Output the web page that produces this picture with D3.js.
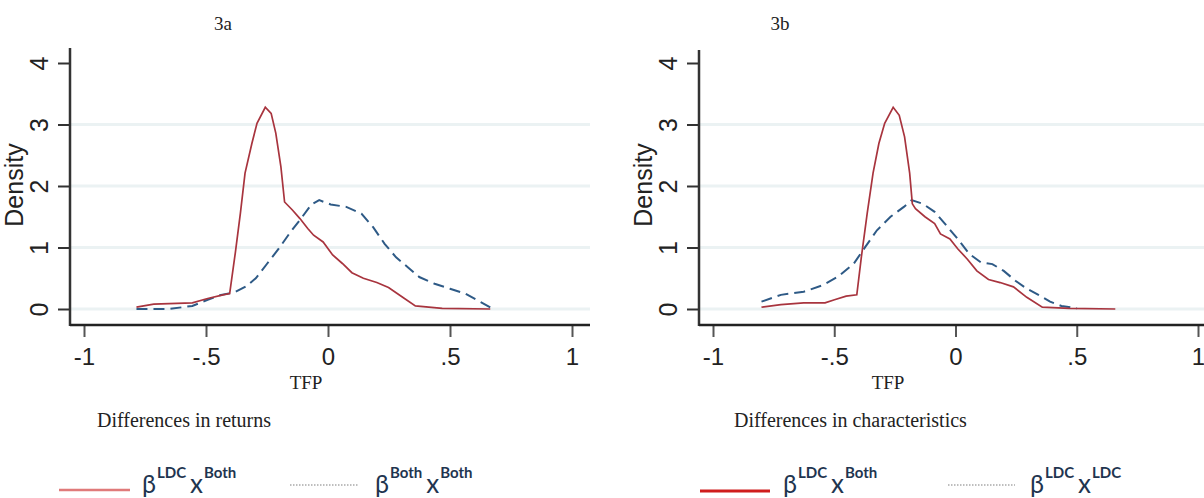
<!doctype html>
<html lang="en">
<head>
    <meta charset="UTF-8">
    <title>TFP density decomposition</title>
    <style>
        body { margin: 0; background: #fff; }
    </style>
</head>
<body>
<script src="https://cdn.jsdelivr.net/npm/d3@7"></script>
<script>

    // axis ticks
    const tfpTicks = [-1, -0.5, 0, 0.5, 1]
    const tfpTickLabels = ['-1', '-.5', '0', '.5', '1']
    const densityTicks = [0, 1, 2, 3, 4]
    const gridTicks = [0, 1, 2, 3]

    // 3a: differences in returns  [TFP, density]
    const returnsLdcBoth = [
        [-0.785, 0.03], [-0.714, 0.08], [-0.556, 0.10], [-0.493, 0.17], [-0.430, 0.23],
        [-0.403, 0.25], [-0.380, 0.91], [-0.359, 1.56], [-0.340, 2.21], [-0.312, 2.69],
        [-0.291, 3.02], [-0.257, 3.28], [-0.233, 3.18], [-0.214, 2.86], [-0.193, 2.31],
        [-0.178, 1.74], [-0.146, 1.61], [-0.115, 1.47], [-0.083, 1.31], [-0.059, 1.20],
        [-0.020, 1.09], [0.019, 0.88], [0.059, 0.74], [0.098, 0.59], [0.145, 0.50],
        [0.200, 0.43], [0.248, 0.35], [0.303, 0.20], [0.358, 0.05], [0.468, 0.01],
        [0.665, 0.00]
    ]
    const returnsBothBoth = [
        [-0.785, 0.00], [-0.651, 0.00], [-0.556, 0.05], [-0.493, 0.15], [-0.438, 0.23],
        [-0.383, 0.27], [-0.335, 0.37], [-0.296, 0.50], [-0.249, 0.74], [-0.202, 0.98],
        [-0.154, 1.25], [-0.107, 1.49], [-0.068, 1.70], [-0.036, 1.77], [0.011, 1.70],
        [0.075, 1.66], [0.137, 1.55], [0.185, 1.33], [0.232, 1.06], [0.279, 0.84],
        [0.327, 0.68], [0.374, 0.52], [0.437, 0.41], [0.500, 0.33], [0.563, 0.25],
        [0.626, 0.11], [0.667, 0.02]
    ]

    // 3b: differences in characteristics
    const charsLdcBoth = [
        [-0.800, 0.03], [-0.720, 0.07], [-0.626, 0.10], [-0.538, 0.10], [-0.499, 0.15],
        [-0.451, 0.21], [-0.407, 0.23], [-0.388, 0.85], [-0.364, 1.56], [-0.340, 2.21],
        [-0.316, 2.69], [-0.292, 3.02], [-0.257, 3.28], [-0.232, 3.15], [-0.210, 2.80],
        [-0.189, 2.21], [-0.178, 1.71], [-0.165, 1.63], [-0.126, 1.50], [-0.086, 1.39],
        [-0.062, 1.22], [-0.023, 1.14], [0.009, 0.98], [0.049, 0.81], [0.088, 0.62],
        [0.136, 0.48], [0.184, 0.43], [0.239, 0.36], [0.294, 0.19], [0.358, 0.03],
        [0.469, 0.01], [0.659, 0.00]
    ]
    const charsLdcLdc = [
        [-0.800, 0.12], [-0.720, 0.23], [-0.626, 0.28], [-0.546, 0.39], [-0.483, 0.53],
        [-0.419, 0.74], [-0.372, 1.01], [-0.324, 1.28], [-0.268, 1.50], [-0.213, 1.66],
        [-0.181, 1.77], [-0.134, 1.71], [-0.086, 1.58], [-0.038, 1.36], [0.009, 1.14],
        [0.056, 0.90], [0.104, 0.76], [0.152, 0.73], [0.199, 0.62], [0.247, 0.46],
        [0.294, 0.33], [0.342, 0.23], [0.390, 0.12], [0.437, 0.05], [0.501, 0.01]
    ]

    const width = 1204
    const height = 498

    const svg = d3.select('body')
        .append('svg')
        .attr('width', width)
        .attr('height', height)

    const serif = 'Liberation Serif, Times New Roman, serif'
    const sans = 'Liberation Sans, Arial, sans-serif'

    const panels = [
        {
            title: '3a', titleX: 223, tfpX: 306, subtitle: 'Differences in returns', subX: 97,
            axisX: 70, right: 590, top: 48, x0: 84, x1: 572,
            solid: returnsLdcBoth, dashed: returnsBothBoth
        },
        {
            title: '3b', titleX: 780, tfpX: 888, subtitle: 'Differences in characteristics', subX: 734,
            axisX: 699, right: 1220, top: 50, x0: 713, x1: 1198,
            solid: charsLdcBoth, dashed: charsLdcLdc
        }
    ]

    const axisY = 325

    const drawPanel = (p) => {
        const x = d3.scaleLinear().domain([-1, 1]).range([p.x0, p.x1])
        const y = d3.scaleLinear().domain([0, 4]).range([309, 63])
        const g = svg.append('g')

        // grid
        g.selectAll('.grid')
            .data(gridTicks)
            .enter()
            .append('line')
            .attr('x1', p.axisX)
            .attr('x2', p.right)
            .attr('y1', d => y(d))
            .attr('y2', d => y(d))
            .attr('stroke', '#ebf2f3')
            .attr('stroke-width', 3)

        // y axis
        const yAxis = g.append('g')
            .attr('transform', `translate(${p.axisX},0)`)
            .call(d3.axisLeft(y).tickValues(densityTicks).tickSize(12).tickFormat(d3.format('d')))
        yAxis.select('.domain').remove()
        yAxis.selectAll('.tick line').attr('stroke', '#333').attr('stroke-width', 2)
        yAxis.selectAll('.tick text')
            .attr('x', 0)
            .attr('y', -22)
            .attr('dy', 0)
            .attr('transform', 'rotate(-90)')
            .attr('text-anchor', 'middle')
            .attr('font-family', sans)
            .attr('font-size', 25)
            .attr('fill', '#222')

        // x axis
        const xAxis = g.append('g')
            .attr('transform', `translate(0,${axisY})`)
            .call(d3.axisBottom(x).tickValues(tfpTicks).tickSize(12).tickFormat((d, i) => tfpTickLabels[i]))
        xAxis.select('.domain').remove()
        xAxis.selectAll('.tick line').attr('stroke', '#555').attr('stroke-width', 2)
        xAxis.selectAll('.tick text')
            .attr('y', 40)
            .attr('dy', 0)
            .attr('font-family', sans)
            .attr('font-size', 24)
            .attr('fill', '#222')

        // axis lines
        g.append('line')
            .attr('x1', p.axisX).attr('x2', p.axisX)
            .attr('y1', p.top).attr('y2', axisY + 1)
            .attr('stroke', '#333').attr('stroke-width', 2.5)
        g.append('line')
            .attr('x1', p.axisX).attr('x2', p.right)
            .attr('y1', axisY).attr('y2', axisY)
            .attr('stroke', '#222').attr('stroke-width', 2.5)

        // density label
        g.append('text')
            .attr('transform', `translate(${p.axisX - 47},185) rotate(-90)`)
            .attr('text-anchor', 'middle')
            .attr('font-family', sans)
            .attr('font-size', 25)
            .attr('fill', '#222')
            .text('Density')

        const line = d3.line().x(d => x(d[0])).y(d => y(d[1]))

        g.append('path')
            .attr('d', line(p.dashed))
            .attr('fill', 'none')
            .attr('stroke', '#2e5a86')
            .attr('stroke-width', 2)
            .attr('stroke-dasharray', '11, 6')

        g.append('path')
            .attr('d', line(p.solid))
            .attr('fill', 'none')
            .attr('stroke', '#a8343e')
            .attr('stroke-width', 1.7)

        // titles
        g.append('text')
            .attr('x', p.titleX).attr('y', 30)
            .attr('text-anchor', 'middle')
            .attr('font-family', serif).attr('font-size', 19)
            .attr('fill', '#222')
            .text(p.title)
        g.append('text')
            .attr('x', p.tfpX).attr('y', 389)
            .attr('text-anchor', 'middle')
            .attr('font-family', serif).attr('font-size', 19)
            .attr('fill', '#222')
            .text('TFP')
        g.append('text')
            .attr('x', p.subX).attr('y', 427)
            .attr('font-family', serif).attr('font-size', 20)
            .attr('fill', '#222')
            .text(p.subtitle)
    }

    panels.forEach(drawPanel)

    // legends
    const legendFont = 'Lato, Carlito, Calibri, sans-serif'
    const legendItems = [
        {x1: 59, x2: 130, ly: 490, stroke: '#e07a7a', sw: 2.5, dash: null, tx: 142, base: 'LDC', x: 'Both'},
        {x1: 290, x2: 358, ly: 485, stroke: '#a9a9a9', sw: 1.5, dash: '1.5, 1.5', tx: 375, base: 'Both', x: 'Both'},
        {x1: 700, x2: 770, ly: 491, stroke: '#d01c1c', sw: 3, dash: null, tx: 783, base: 'LDC', x: 'Both'},
        {x1: 948, x2: 1015, ly: 485, stroke: '#a9a9a9', sw: 1.5, dash: '1.5, 1.5', tx: 1030, base: 'LDC', x: 'LDC'}
    ]

    legendItems.forEach(d => {
        svg.append('line')
            .attr('x1', d.x1).attr('x2', d.x2)
            .attr('y1', d.ly).attr('y2', d.ly)
            .attr('stroke', d.stroke)
            .attr('stroke-width', d.sw)
            .attr('stroke-dasharray', d.dash)

        const t = svg.append('text')
            .attr('x', d.tx).attr('y', 493)
            .attr('font-family', legendFont)
            .attr('fill', '#1f3550')
        t.append('tspan').attr('font-size', 25).text('β')
        t.append('tspan').attr('font-size', 15).attr('font-weight', 'bold').attr('dy', -15).attr('dx', 1).text(d.base)
        t.append('tspan').attr('font-size', 26).attr('dy', 15).attr('dx', 4).text('x')
        t.append('tspan').attr('font-size', 15).attr('font-weight', 'bold').attr('dy', -15).attr('dx', 1).text(d.x)
    })

</script>
</body>
</html>
